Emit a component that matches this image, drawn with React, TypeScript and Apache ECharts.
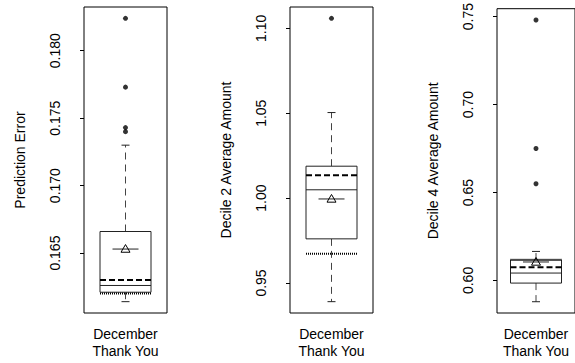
import React, { useEffect, useRef } from "react";
import * as echarts from "echarts";

const yTitles = ["Prediction Error", "Decile 2 Average Amount", "Decile 4 Average Amount"];
const categories = ["December\nThank You"];
const lowerWhisker = [0.1614, 0.939, 0.5879];
const q1 = [0.1621, 0.976, 0.5985];
const median = [0.1626, 1.0049, 0.6042];
const q3 = [0.1666, 1.0188, 0.6116];
const upperWhisker = [0.173, 1.0504, 0.6165];
const means = [0.1653, 0.9995, 0.6105];
const dashedRef = [0.163, 1.0135, 0.6075];
const dottedRef = [0.162, 0.9672, 0.6118];
const outliers = [
  [0.1824, 0.1773, 0.1743, 0.174],
  [1.1059],
  [0.7481, 0.675, 0.655],
];
const tickValues = [
  [0.165, 0.17, 0.175, 0.18],
  [0.95, 1.0, 1.05, 1.1],
  [0.6, 0.65, 0.7, 0.75],
];
const tickDecimals = [3, 2, 2];

const FONT = "Liberation Sans, Arial, Helvetica, sans-serif";

export default function App() {
  const ref = useRef<HTMLDivElement>(null);
  useEffect(() => {
    const chart = echarts.init(ref.current!, null, { renderer: "svg" });
    const lefts = [84, 290, 497];
    const grids: any[] = [];
    const xAxes: any[] = [];
    const yAxes: any[] = [];
    const series: any[] = [];
    for (let i = 0; i < 3; i++) {
      const all = [lowerWhisker[i], upperWhisker[i], ...outliers[i]];
      const lo = Math.min(...all);
      const hi = Math.max(...all);
      const pad = (hi - lo) * 0.04;
      grids.push({
        left: lefts[i],
        top: 7,
        width: 83,
        height: 306,
        show: true,
        borderColor: "#000",
        borderWidth: 1,
        backgroundColor: "transparent",
      });
      xAxes.push({
        type: "category",
        gridIndex: i,
        data: categories,
        axisLine: { show: false },
        axisTick: { show: false },
        axisLabel: {
          margin: 12,
          fontSize: 14,
          lineHeight: 17,
          color: "#000",
          fontFamily: FONT,
        },
      });
      const dec = tickDecimals[i];
      yAxes.push({
        type: "value",
        gridIndex: i,
        min: lo - pad,
        max: hi + pad,
        name: yTitles[i],
        nameLocation: "middle",
        nameRotate: 90,
        nameGap: 57,
        nameTextStyle: { fontSize: 14, color: "#000", fontFamily: FONT },
        axisLine: { show: false },
        splitLine: { show: false },
        axisTick: {
          show: true,
          length: 4,
          lineStyle: { color: "#000" },
          customValues: tickValues[i],
        },
        axisLabel: {
          rotate: 90,
          margin: 22,
          fontSize: 14,
          color: "#000",
          fontFamily: FONT,
          customValues: tickValues[i],
          formatter: (v: number) => v.toFixed(dec),
        },
      });
      series.push({
        type: "custom",
        xAxisIndex: i,
        yAxisIndex: i,
        data: [[0, lowerWhisker[i], q1[i], median[i], q3[i], upperWhisker[i], means[i], dashedRef[i], dottedRef[i]]],
        renderItem: (params: any, api: any) => {
          const c = (v: number) => api.coord([api.value(0), v]);
          const cx = c(api.value(1))[0];
          const y = (k: number) => c(api.value(k))[1];
          const hw = 25.5;
          const cap = 4;
          const mw = 13;
          const yLo = y(1), yQ1 = y(2), yMed = y(3), yQ3 = y(4), yHi = y(5), yMean = y(6), yDash = y(7), yDot = y(8);
          const solid = { stroke: "#222", lineWidth: 1, fill: "none" };
          const whisk = { stroke: "#444", lineWidth: 1, lineDash: [7, 5] };
          return {
            type: "group",
            children: [
              { type: "line", shape: { x1: cx, y1: yQ3, x2: cx, y2: yHi }, style: whisk },
              { type: "line", shape: { x1: cx, y1: yQ1, x2: cx, y2: yLo }, style: whisk },
              { type: "line", shape: { x1: cx - cap, y1: yHi, x2: cx + cap, y2: yHi }, style: solid },
              { type: "line", shape: { x1: cx - cap, y1: yLo, x2: cx + cap, y2: yLo }, style: solid },
              { type: "rect", shape: { x: cx - hw, y: yQ3, width: 2 * hw, height: yQ1 - yQ3 }, style: { stroke: "#222", lineWidth: 1, fill: "#fff" } },
              { type: "line", shape: { x1: cx - hw, y1: yMed, x2: cx + hw, y2: yMed }, style: solid },
              { type: "line", shape: { x1: cx - hw, y1: yDash, x2: cx + hw, y2: yDash }, style: { stroke: "#000", lineWidth: 2, lineDash: [6, 3] } },
              { type: "line", shape: { x1: cx - hw, y1: yDot, x2: cx + hw, y2: yDot }, style: { stroke: "#000", lineWidth: 2, lineDash: [1, 1] } },
              { type: "line", shape: { x1: cx - mw, y1: yMean, x2: cx + mw, y2: yMean }, style: solid },
              {
                type: "polygon",
                shape: { points: [[cx, yMean - 4.5], [cx - 4.5, yMean + 3.2], [cx + 4.5, yMean + 3.2]] },
                style: { stroke: "#000", lineWidth: 1, fill: "none" },
              },
            ],
          };
        },
      });
      series.push({
        type: "scatter",
        xAxisIndex: i,
        yAxisIndex: i,
        symbol: "circle",
        symbolSize: 5,
        itemStyle: { color: "#000" },
        data: outliers[i].map((v) => [0, v]),
      });
    }
    chart.setOption({
      animation: false,
      backgroundColor: "#fff",
      grid: grids,
      xAxis: xAxes,
      yAxis: yAxes,
      series,
    });
    return () => chart.dispose();
  }, []);
  return <div ref={ref} style={{ position: "fixed", left: 0, top: 0, width: 575, height: 363 }} />;
}
